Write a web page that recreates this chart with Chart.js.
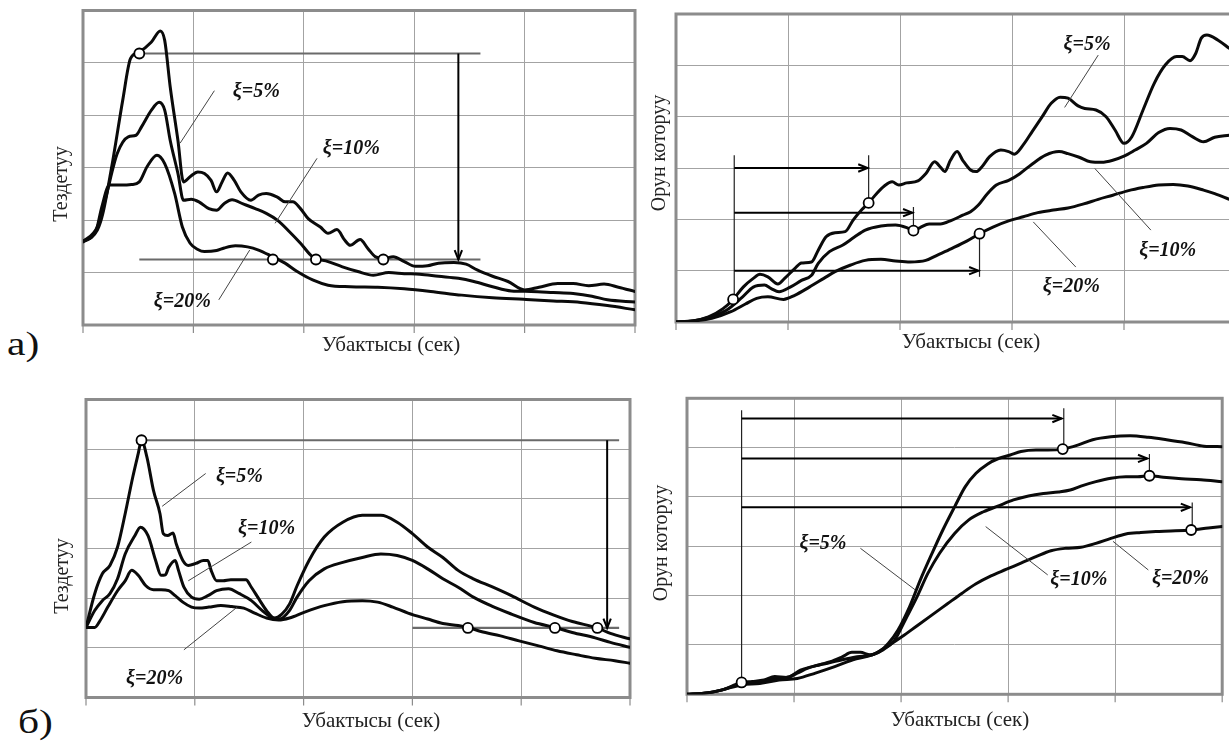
<!DOCTYPE html>
<html>
<head>
<meta charset="utf-8">
<script src="https://cdn.jsdelivr.net/npm/chart.js@4.4.1/dist/chart.umd.min.js"></script>
<style>
html,body{margin:0;padding:0;background:#fff;}
body{width:1229px;height:742px;overflow:hidden;position:relative;}
canvas{position:absolute;}
.pl{position:absolute;font-family:"Liberation Serif","Times New Roman",serif;font-size:34px;line-height:34px;color:#111;transform:scaleX(1.22);transform-origin:0 0;}
</style>
</head>
<body>
<div class="pl" style="left:7px;top:327px;">а)</div>
<div class="pl" style="left:18px;top:705px;">б)</div>
<canvas id="c1" width="660" height="372" style="left:0;top:0;"></canvas>
<canvas id="c2" width="610" height="372" style="left:640px;top:0;"></canvas>
<canvas id="c3" width="660" height="367" style="left:0;top:375px;"></canvas>
<canvas id="c4" width="589" height="367" style="left:640px;top:375px;"></canvas>
<script>
// ---------- tick / axis texts ----------
const xTitle = "Убактысы (сек)";
const yTitleAccel = "Тездетуу";
const yTitleDisp = "Орун которуу";
const seriesNames = ["ξ=5%", "ξ=10%", "ξ=20%"];

// ---------- а) left: acceleration spectra ----------
const aAcc5 = [[0,1.59],[0.06,1.65],[0.13,1.81],[0.18,2.13],[0.27,3.14],[0.36,4.29],[0.43,5.08],[0.51,5.21],[0.62,5.40],[0.70,5.61],[0.74,5.43],[0.79,4.54],[0.86,3.52],[0.91,2.73],[0.97,2.83],[1.04,2.92],[1.10,2.89],[1.16,2.76],[1.21,2.54],[1.26,2.73],[1.31,2.90],[1.37,2.76],[1.43,2.54],[1.52,2.38],[1.59,2.48],[1.66,2.51],[1.76,2.44],[1.83,2.35],[1.90,2.35],[1.97,2.22],[2.04,2.03],[2.15,1.87],[2.22,1.75],[2.30,1.82],[2.37,1.62],[2.42,1.52],[2.51,1.63],[2.58,1.46],[2.65,1.30],[2.72,1.27],[2.81,1.30],[2.91,1.21],[3.01,1.12],[3.12,1.13],[3.22,1.18],[3.36,1.19],[3.47,1.16],[3.57,1.05],[3.71,0.93],[3.85,0.83],[4.00,0.67],[4.13,0.72],[4.30,0.79],[4.44,0.79],[4.58,0.75],[4.72,0.78],[4.85,0.72],[5.00,0.64]];
const aAcc10 = [[0,1.59],[0.13,1.87],[0.20,2.38],[0.31,3.27],[0.41,3.59],[0.48,3.62],[0.53,3.78],[0.62,4.10],[0.69,4.25],[0.74,4.10],[0.79,3.52],[0.86,2.89],[0.91,2.38],[0.98,2.40],[1.05,2.35],[1.14,2.22],[1.21,2.19],[1.28,2.32],[1.35,2.39],[1.45,2.31],[1.56,2.22],[1.66,2.13],[1.76,2.00],[1.87,1.78],[1.97,1.56],[2.08,1.30],[2.22,1.21],[2.35,1.11],[2.49,1.02],[2.63,0.95],[2.77,1.00],[2.91,0.98],[3.05,0.97],[3.22,0.93],[3.40,0.89],[3.54,0.83],[3.71,0.73],[3.88,0.65],[4.06,0.64],[4.26,0.62],[4.44,0.60],[4.61,0.55],[4.75,0.48],[5.00,0.44]];
const aAcc20 = [[0,1.59],[0.12,1.81],[0.17,2.25],[0.24,2.67],[0.34,2.67],[0.44,2.68],[0.51,2.73],[0.58,3.02],[0.67,3.24],[0.74,3.08],[0.83,2.51],[0.90,1.87],[0.97,1.56],[1.04,1.44],[1.10,1.40],[1.21,1.42],[1.28,1.47],[1.38,1.51],[1.49,1.49],[1.59,1.43],[1.71,1.31],[1.83,1.18],[1.94,1.02],[2.08,0.86],[2.22,0.76],[2.42,0.73],[2.67,0.72],[2.91,0.69],[3.15,0.64],[3.43,0.57],[3.71,0.52],[3.99,0.49],[4.26,0.46],[4.51,0.43],[4.75,0.37],[5.00,0.29]];
const aAccCircles = [[0.51,5.18],[1.72,1.25],[2.11,1.25],[2.72,1.25]];
const aAccRefLines = [[0.51,5.18,3.60,5.18],[0.51,1.25,3.60,1.25]];
const aAccArrows = [[3.40,5.18,3.40,1.25]];
const aAccThin = [];
const aAccLabels = [[1.57,4.44],[2.43,3.36],[0.90,0.44]];
const aAccLeaders = [[1.19,4.47,0.88,3.47],[2.12,3.18,1.74,1.94],[1.23,0.48,1.51,1.43]];

// ---------- а) right: displacement spectra ----------
const aDisp5 = [[0,0],[0.15,0.02],[0.29,0.10],[0.42,0.26],[0.51,0.44],[0.60,0.68],[0.69,0.85],[0.75,0.93],[0.82,0.88],[0.91,0.74],[0.97,0.85],[1.06,1.04],[1.12,1.15],[1.21,1.17],[1.27,1.40],[1.34,1.66],[1.42,1.74],[1.51,1.76],[1.58,1.98],[1.66,2.19],[1.72,2.32],[1.79,2.50],[1.86,2.65],[1.93,2.73],[1.99,2.67],[2.06,2.71],[2.16,2.75],[2.23,2.89],[2.31,3.12],[2.36,3.02],[2.40,2.93],[2.45,3.15],[2.51,3.32],[2.56,3.15],[2.63,2.96],[2.68,2.93],[2.73,3.02],[2.80,3.22],[2.90,3.35],[2.97,3.32],[3.02,3.27],[3.10,3.45],[3.18,3.71],[3.27,4.00],[3.35,4.26],[3.43,4.38],[3.50,4.36],[3.59,4.21],[3.65,4.16],[3.75,4.13],[3.84,4.00],[3.92,3.74],[4.00,3.48],[4.07,3.61],[4.17,4.13],[4.27,4.65],[4.37,5.01],[4.47,5.17],[4.52,5.17],[4.59,5.09],[4.64,5.23],[4.69,5.53],[4.74,5.59],[4.84,5.49],[4.94,5.33]];
const aDisp10 = [[0,0],[0.15,0.02],[0.29,0.09],[0.45,0.23],[0.59,0.48],[0.69,0.68],[0.79,0.72],[0.85,0.65],[0.92,0.59],[1.02,0.68],[1.12,0.81],[1.21,0.91],[1.27,1.14],[1.37,1.37],[1.49,1.50],[1.59,1.65],[1.69,1.79],[1.83,1.87],[1.96,1.89],[2.06,1.84],[2.12,1.78],[2.18,1.84],[2.26,1.91],[2.36,1.91],[2.46,1.98],[2.56,2.08],[2.63,2.15],[2.70,2.28],[2.78,2.50],[2.86,2.67],[2.97,2.76],[3.07,2.89],[3.17,3.06],[3.30,3.25],[3.42,3.32],[3.50,3.28],[3.60,3.21],[3.70,3.12],[3.80,3.11],[3.90,3.15],[4.00,3.23],[4.10,3.35],[4.20,3.48],[4.31,3.69],[4.41,3.77],[4.51,3.74],[4.61,3.61],[4.71,3.51],[4.81,3.60],[4.94,3.64]];
const aDisp20 = [[0,0],[0.15,0.02],[0.32,0.07],[0.49,0.20],[0.62,0.35],[0.72,0.46],[0.82,0.49],[0.96,0.44],[1.06,0.52],[1.19,0.68],[1.32,0.85],[1.42,0.98],[1.56,1.11],[1.69,1.20],[1.83,1.22],[1.96,1.19],[2.09,1.17],[2.23,1.20],[2.33,1.30],[2.46,1.43],[2.60,1.58],[2.71,1.72],[2.83,1.85],[2.97,1.97],[3.10,2.05],[3.23,2.13],[3.37,2.18],[3.50,2.22],[3.64,2.30],[3.77,2.39],[3.90,2.47],[4.04,2.56],[4.17,2.62],[4.31,2.67],[4.44,2.68],[4.57,2.65],[4.71,2.57],[4.81,2.50],[4.94,2.39]];
const aDispCircles = [[0.51,0.44],[1.72,2.32],[2.12,1.78],[2.71,1.72]];
const aDispRefLines = [];
const aDispArrows = [[0.52,3.00,1.71,3.00],[0.52,2.13,2.11,2.13],[0.52,1.00,2.70,1.00]];
const aDispThin = [[0.52,3.25,0.52,0.44],[1.72,3.25,1.72,2.32],[2.12,2.24,2.12,1.78],[2.71,1.72,2.71,0.88]];
const aDispLabels = [[3.67,5.40],[4.39,1.39],[3.53,0.68]];
const aDispLeaders = [[3.77,5.20,3.47,4.18],[4.24,1.79,3.74,2.99],[3.57,1.07,3.19,1.95]];

// ---------- б) left: acceleration spectra ----------
const bAcc5 = [[0,1.41],[0.08,2.09],[0.15,2.49],[0.22,2.66],[0.29,3.03],[0.36,3.70],[0.43,4.44],[0.48,4.91],[0.51,5.18],[0.56,4.84],[0.62,4.17],[0.68,3.70],[0.71,3.30],[0.75,3.26],[0.80,3.31],[0.83,3.09],[0.89,2.76],[0.94,2.66],[1.01,2.70],[1.08,2.76],[1.12,2.76],[1.15,2.56],[1.20,2.35],[1.26,2.35],[1.33,2.37],[1.40,2.37],[1.47,2.37],[1.52,2.22],[1.59,1.98],[1.66,1.75],[1.73,1.60],[1.80,1.68],[1.87,1.88],[1.94,2.25],[2.05,2.76],[2.19,3.23],[2.36,3.53],[2.54,3.67],[2.71,3.67],[2.86,3.53],[3.00,3.30],[3.14,3.03],[3.28,2.82],[3.42,2.56],[3.56,2.39],[3.73,2.23],[3.91,2.05],[4.12,1.82],[4.30,1.66],[4.47,1.53],[4.70,1.40],[4.82,1.29],[5.00,1.18]];
const bAcc10 = [[0,1.41],[0.08,1.75],[0.15,1.95],[0.22,2.09],[0.29,2.39],[0.36,2.89],[0.45,3.26],[0.50,3.43],[0.57,3.26],[0.64,2.76],[0.69,2.46],[0.73,2.47],[0.76,2.62],[0.82,2.76],[0.85,2.56],[0.90,2.22],[0.97,2.02],[1.04,1.98],[1.12,2.05],[1.20,2.15],[1.31,2.19],[1.41,2.09],[1.52,1.95],[1.62,1.75],[1.71,1.61],[1.78,1.58],[1.87,1.75],[1.94,2.02],[2.05,2.35],[2.19,2.59],[2.36,2.72],[2.54,2.82],[2.71,2.89],[2.86,2.86],[3.00,2.76],[3.14,2.59],[3.28,2.39],[3.42,2.22],[3.56,2.02],[3.73,1.84],[3.91,1.68],[4.12,1.51],[4.31,1.41],[4.47,1.31],[4.68,1.20],[4.82,1.11],[5.00,1.01]];
const bAcc20 = [[0,1.41],[0.08,1.41],[0.13,1.55],[0.20,1.82],[0.29,2.15],[0.36,2.35],[0.42,2.56],[0.48,2.46],[0.55,2.25],[0.62,2.17],[0.69,2.17],[0.76,2.15],[0.82,2.05],[0.89,1.92],[0.97,1.82],[1.04,1.80],[1.13,1.82],[1.24,1.85],[1.34,1.83],[1.45,1.80],[1.55,1.70],[1.66,1.60],[1.77,1.56],[1.87,1.60],[2.01,1.72],[2.19,1.85],[2.36,1.93],[2.54,1.95],[2.68,1.92],[2.82,1.82],[2.96,1.70],[3.14,1.58],[3.28,1.49],[3.42,1.45],[3.51,1.41],[3.63,1.33],[3.81,1.24],[3.98,1.14],[4.16,1.04],[4.33,0.94],[4.51,0.86],[4.68,0.79],[4.86,0.74],[5.00,0.69]];
const bAccCircles = [[0.51,5.18],[3.51,1.40],[4.31,1.40],[4.70,1.40]];
const bAccRefLines = [[0.51,5.18,4.90,5.18],[3.00,1.40,4.90,1.40]];
const bAccArrows = [[4.79,5.18,4.79,1.40]];
const bAccThin = [];
const bAccLabels = [[1.41,4.44],[1.66,3.40],[0.63,0.37]];
const bAccLeaders = [[1.10,4.51,0.70,3.85],[1.52,3.13,0.94,2.35],[0.90,0.96,1.39,1.82]];

// ---------- б) right: displacement spectra ----------
const bDisp5 = [[0,0],[0.16,0.02],[0.33,0.09],[0.51,0.24],[0.61,0.26],[0.72,0.29],[0.82,0.36],[0.93,0.34],[1.03,0.43],[1.13,0.53],[1.24,0.60],[1.34,0.66],[1.45,0.76],[1.54,0.85],[1.62,0.85],[1.71,0.80],[1.80,0.87],[1.88,1.03],[1.97,1.30],[2.08,1.78],[2.18,2.32],[2.29,2.86],[2.39,3.33],[2.50,3.80],[2.60,4.21],[2.70,4.48],[2.81,4.67],[2.91,4.78],[3.02,4.85],[3.12,4.92],[3.26,4.95],[3.37,4.95],[3.51,4.97],[3.65,5.05],[3.79,5.16],[3.96,5.22],[4.14,5.24],[4.31,5.21],[4.48,5.16],[4.66,5.10],[4.83,5.03],[5.00,5.02]];
const bDisp10 = [[0,0],[0.16,0.02],[0.33,0.09],[0.51,0.22],[0.68,0.26],[0.82,0.32],[0.96,0.36],[1.06,0.49],[1.17,0.56],[1.31,0.63],[1.45,0.70],[1.59,0.76],[1.73,0.80],[1.83,0.90],[1.94,1.10],[2.04,1.51],[2.15,1.98],[2.25,2.45],[2.36,2.86],[2.50,3.26],[2.63,3.53],[2.77,3.70],[2.91,3.82],[3.05,3.94],[3.19,4.02],[3.33,4.07],[3.47,4.10],[3.58,4.14],[3.68,4.22],[3.82,4.31],[3.96,4.38],[4.10,4.41],[4.21,4.41],[4.32,4.43],[4.45,4.40],[4.62,4.37],[4.80,4.35],[5.00,4.31]];
const bDisp20 = [[0,0],[0.16,0.02],[0.33,0.09],[0.51,0.19],[0.68,0.22],[0.86,0.29],[1.03,0.32],[1.20,0.43],[1.38,0.56],[1.55,0.70],[1.73,0.80],[1.87,0.97],[2.01,1.17],[2.15,1.39],[2.29,1.61],[2.43,1.83],[2.57,2.05],[2.70,2.24],[2.84,2.40],[2.98,2.53],[3.12,2.66],[3.26,2.79],[3.40,2.91],[3.54,2.96],[3.68,2.98],[3.82,3.06],[3.96,3.16],[4.10,3.25],[4.24,3.28],[4.38,3.30],[4.52,3.31],[4.71,3.33],[4.87,3.37],[5.00,3.40]];
const bDispCircles = [[0.51,0.24],[3.51,4.97],[4.32,4.43],[4.71,3.33]];
const bDispRefLines = [];
const bDispArrows = [[0.51,5.59,3.50,5.59],[0.51,4.78,4.30,4.78],[0.51,3.79,4.70,3.79]];
const bDispThin = [[0.51,5.76,0.51,0.24],[3.52,5.80,3.52,4.97],[4.32,4.87,4.32,4.43],[4.72,3.89,4.72,3.33]];
const bDispLabels = [[1.27,3.06],[3.66,2.32],[4.61,2.35]];
const bDispLeaders = [[1.62,2.96,2.13,2.12],[3.37,2.42,2.79,3.40],[4.31,2.52,3.98,3.10]];

// ---------- panel layout (positions / styles only) ----------
const panels = [
  {id:'c1', off:[0,0], pad:{left:83,top:10.5,right:25,bottom:47}, series:[aAcc5,aAcc10,aAcc20], circles:aAccCircles, ref:aAccRefLines, arrows:aAccArrows, thin:aAccThin, labels:aAccLabels, leaders:aAccLeaders, yTitle:yTitleAccel, xt:[391,345], yt:[62,184]},
  {id:'c2', off:[640,0], pad:{left:36,top:14,right:14,bottom:50}, series:[aDisp5,aDisp10,aDisp20], circles:aDispCircles, ref:aDispRefLines, arrows:aDispArrows, thin:aDispThin, labels:aDispLabels, leaders:aDispLeaders, yTitle:yTitleDisp, xt:[971,342], yt:[659.5,153]},
  {id:'c3', off:[0,375], pad:{left:86,top:24.5,right:30,bottom:44.5}, series:[bAcc5,bAcc10,bAcc20], circles:bAccCircles, ref:bAccRefLines, arrows:bAccArrows, thin:bAccThin, labels:bAccLabels, leaders:bAccLeaders, yTitle:yTitleAccel, xt:[371,721], yt:[63,576]},
  {id:'c4', off:[640,375], pad:{left:47,top:23.3,right:3.7,bottom:47.7}, series:[bDisp5,bDisp10,bDisp20], circles:bDispCircles, ref:bDispRefLines, arrows:bDispArrows, thin:bDispThin, labels:bDispLabels, leaders:bDispLeaders, yTitle:yTitleDisp, xt:[960,720], yt:[661.5,543]}
];

function seg(ctx,x1,y1,x2,y2){ctx.beginPath();ctx.moveTo(x1,y1);ctx.lineTo(x2,y2);ctx.stroke();}
function arrowHead(ctx,x1,y1,x2,y2){
  const ang=Math.atan2(y2-y1,x2-x1), L=10, w=0.38;
  ctx.beginPath();
  ctx.moveTo(x2-L*Math.cos(ang-w), y2-L*Math.sin(ang-w));
  ctx.lineTo(x2,y2);
  ctx.lineTo(x2-L*Math.cos(ang+w), y2-L*Math.sin(ang+w));
  ctx.stroke();
}

function makeDeco(p){
  return {
    id:'deco_'+p.id,
    beforeDatasetsDraw(chart){
      const {ctx, chartArea:a, scales:{x,y}} = chart;
      ctx.save();
      ctx.lineCap='butt';
      ctx.strokeStyle='#8c8c8c'; ctx.lineWidth=3;
      ctx.strokeRect(a.left,a.top,a.right-a.left,a.bottom-a.top);
      ctx.lineWidth=1.2; ctx.strokeStyle='#8c8c8c';
      for(let v=0; v<=5; v++){const px=x.getPixelForValue(v); seg(ctx,px,a.bottom,px,a.bottom+8);}
      ctx.strokeStyle='#6a6a6a'; ctx.lineWidth=2.2;
      p.ref.forEach(r=>seg(ctx,x.getPixelForValue(r[0]),y.getPixelForValue(r[1]),x.getPixelForValue(r[2]),y.getPixelForValue(r[3])));
      ctx.strokeStyle='#222'; ctx.lineWidth=1.2;
      p.thin.forEach(r=>seg(ctx,x.getPixelForValue(r[0]),y.getPixelForValue(r[1]),x.getPixelForValue(r[2]),y.getPixelForValue(r[3])));
      ctx.strokeStyle='#000'; ctx.lineWidth=2;
      p.arrows.forEach(r=>{
        const x1=x.getPixelForValue(r[0]), y1=y.getPixelForValue(r[1]), x2=x.getPixelForValue(r[2]), y2=y.getPixelForValue(r[3]);
        seg(ctx,x1,y1,x2,y2); arrowHead(ctx,x1,y1,x2,y2);
      });
      ctx.restore();
    },
    afterDatasetsDraw(chart){
      const {ctx, scales:{x,y}} = chart;
      ctx.save();
      ctx.strokeStyle='#444'; ctx.lineWidth=1;
      p.leaders.forEach(r=>seg(ctx,x.getPixelForValue(r[0]),y.getPixelForValue(r[1]),x.getPixelForValue(r[2]),y.getPixelForValue(r[3])));
      ctx.fillStyle='#111';
      ctx.font='italic bold 20px "Liberation Serif", "Times New Roman", serif';
      ctx.textAlign='center'; ctx.textBaseline='middle';
      p.labels.forEach((l,i)=>ctx.fillText(seriesNames[i], x.getPixelForValue(l[0]), y.getPixelForValue(l[1])));
      ctx.restore();
    },
    afterDraw(chart){
      const ctx=chart.ctx;
      ctx.save();
      ctx.fillStyle='#222';
      ctx.textAlign='center'; ctx.textBaseline='middle';
      ctx.font='21px "Liberation Serif", "Times New Roman", serif';
      ctx.fillText(xTitle, p.xt[0]-p.off[0], p.xt[1]-p.off[1]);
      ctx.font='20px "Liberation Serif", "Times New Roman", serif';
      ctx.translate(p.yt[0]-p.off[0], p.yt[1]-p.off[1]);
      ctx.rotate(-Math.PI/2);
      ctx.fillText(p.yTitle, 0, 0);
      ctx.restore();
    }
  };
}

const toXY = arr => arr.map(d=>({x:d[0], y:d[1]}));

panels.forEach(p=>{
  const datasets = [{
    data: toXY(p.circles), showLine:false, order:0,
    pointRadius:5, pointBorderWidth:1.8, pointBackgroundColor:'#fff', pointBorderColor:'#000', pointHoverRadius:5
  }];
  p.series.forEach((s,i)=>datasets.push({
    label: seriesNames[i], data: toXY(s), order:1,
    borderColor:'#0a0a0a', borderWidth:3, pointRadius:0, pointHoverRadius:0,
    fill:false, cubicInterpolationMode:'monotone', borderJoinStyle:'round', borderCapStyle:'round'
  }));
  new Chart(document.getElementById(p.id), {
    type:'line',
    data:{datasets},
    options:{
      responsive:false, animation:false, devicePixelRatio:1,
      events:[],
      layout:{padding:p.pad},
      plugins:{legend:{display:false}, tooltip:{enabled:false}, title:{display:false}},
      scales:{
        x:{type:'linear', min:0, max:5, ticks:{display:false, stepSize:1}, grid:{color:'#a3a3a3', lineWidth:1, drawTicks:false}, border:{display:false}, afterFit(s){s.height=0;}},
        y:{type:'linear', min:0, max:6, ticks:{display:false, stepSize:1}, grid:{color:'#a3a3a3', lineWidth:1, drawTicks:false}, border:{display:false}, afterFit(s){s.width=0;}}
      }
    },
    plugins:[makeDeco(p)]
  });
});
</script>
</body>
</html>
